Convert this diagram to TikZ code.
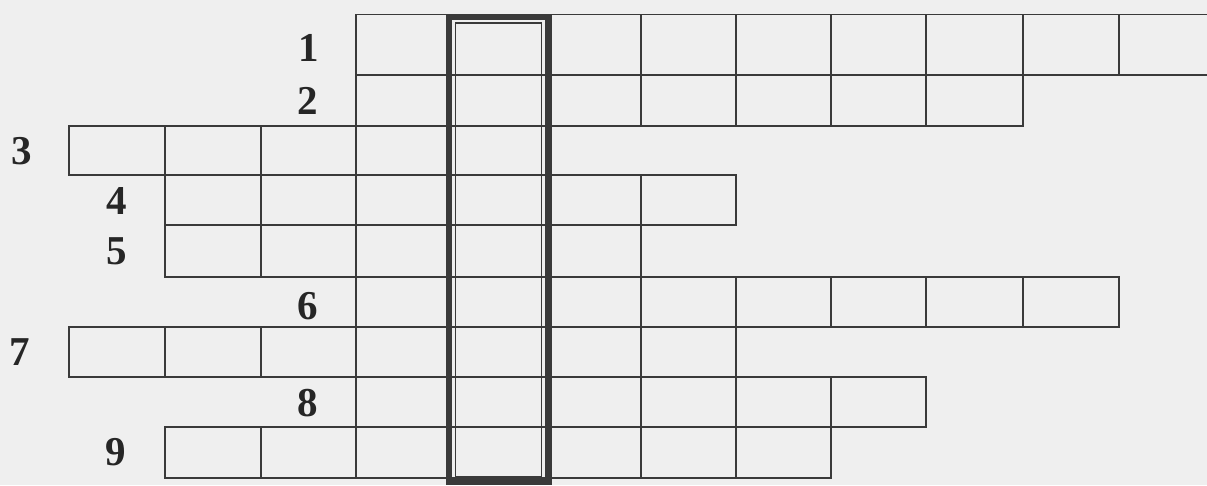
\documentclass[tikz,border=0pt]{standalone}
\usepackage{fontspec}
\setmainfont{Liberation Serif}
\definecolor{paper}{HTML}{EFEFEF}
\definecolor{ink}{HTML}{3A3A3A}
\definecolor{numink}{HTML}{262626}
\newcommand\crossrow[3]{\foreach \a/\b in {#3} {\draw[cell] (\a,#1) rectangle (\b,#2);}}
\begin{document}
\begin{tikzpicture}[x=1pt,y=-1pt,
  cell/.style={draw=ink,line width=1.4pt},
  num/.style={font=\fontsize{41}{41}\selectfont\bfseries,text=numink,inner sep=0pt},
  thickframe/.style={draw=ink,line width=6pt},
  innerframe/.style={draw=ink,line width=1.2pt}]
\fill[paper] (0,0) rectangle (1207,485);
\useasboundingbox (0,0) rectangle (1207,485);
\clip (0,0) rectangle (1207,485);
% rows of cells
\crossrow{14.5}{75}{356/451,451/546,546/641,641/736,736/831,831/926,926/1023,1023/1119,1119/1215}
\crossrow{75}{126}{356/451,451/546,546/641,641/736,736/831,831/926,926/1023}
\crossrow{126}{175}{69/165,165/261,261/356,356/451,451/546}
\crossrow{175}{225}{165/261,261/356,356/451,451/546,546/641,641/736}
\crossrow{225}{277}{165/261,261/356,356/451,451/546,546/641}
\crossrow{277}{327}{356/451,451/546,546/641,641/736,736/831,831/926,926/1023,1023/1119}
\crossrow{327}{377}{69/165,165/261,261/356,356/451,451/546,546/641,641/736}
\crossrow{377}{427}{356/451,451/546,546/641,641/736,736/831,831/926}
\crossrow{427}{478}{165/261,261/356,356/451,451/546,546/641,641/736,736/831}
% highlighted solution column
\draw[thickframe] (449,17) rectangle (548.5,482);
\draw[innerframe] (455.5,23) rectangle (541.5,477);
% row numbers
\node[num] (n1) at (309,48) {1};
\node[num] (n2) at (308,101) {2};
\node[num] (n3) at (22,151) {3};
\node[num] (n4) at (117,201) {4};
\node[num] (n5) at (117,251) {5};
\node[num] (n6) at (308,306) {6};
\node[num] (n7) at (20,352) {7};
\node[num] (n8) at (308,403) {8};
\node[num] (n9) at (116,452) {9};
\end{tikzpicture}
\end{document}
